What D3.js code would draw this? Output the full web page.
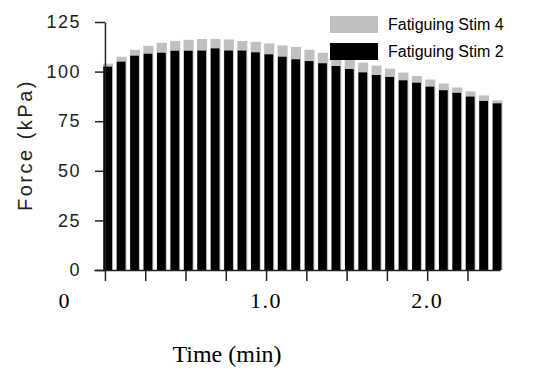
<!DOCTYPE html>
<html>
<head>
<meta charset="utf-8">
<script src="https://cdn.jsdelivr.net/npm/d3@7"></script>
<style>
  body { margin: 0; background: #fff; }
  svg { display: block; }
</style>
</head>
<body>
<script>
// data
var legendLabels = ["Fatiguing Stim 4", "Fatiguing Stim 2"];
var legendColors = ["#c0c0c0", "#000000"];

// one bar every 5 s
var stim4 = [104, 107.5, 111, 113, 114.5, 115.5, 116, 116.4, 116.4, 116.2,
             115.4, 115, 114.2, 113.2, 112.4, 111, 109.5, 108, 106.5, 104.5,
             103, 101.5, 99.5, 97.8, 96, 94, 92, 90, 88, 85.5];
var stim2 = [102.5, 105, 108, 109, 109.5, 110.5, 110.5, 110.6, 111.7, 110.6,
             110.6, 109.7, 108.7, 107.5, 106.2, 105.3, 104.2, 102.8, 101.3, 99.6,
             98.3, 97.3, 95.6, 94.4, 92.4, 90.6, 89.3, 87.4, 85.2, 84];

var yTicks = [0, 25, 50, 75, 100, 125];
var xTicks = [0, 0.25, 0.5, 0.75, 1.0, 1.25, 1.5, 1.75, 2.0, 2.25];
var xLabelPos = [-0.25, 1.0, 2.0];
var xLabelText = ["0", "1.0", "2.0"];

var barSeconds = 5;

var svg = d3.select("body")
    .append("svg")
    .attr("width", 548)
    .attr("height", 384);

var x = d3.scaleLinear().domain([-0.068, 2.452]).range([94, 500]);
var y = d3.scaleLinear().domain([0, 125]).range([270, 22]);

var step = x(barSeconds / 60) - x(0);
var start = x(-0.012);
var band = d3.scaleBand()
    .domain(d3.range(stim2.length))
    .range([start, start + (stim2.length - 0.25) * step])
    .paddingInner(0.25)
    .paddingOuter(0);

// back series (grey)
svg.append("g").selectAll("rect")
    .data(stim4)
    .enter()
    .append("rect")
    .attr("fill", legendColors[0])
    .attr("x", function (d, i) { return band(i); })
    .attr("width", band.bandwidth())
    .attr("y", function (d) { return y(d); })
    .attr("height", function (d) { return y(0) - y(d); });

// front series (black)
svg.append("g").selectAll("rect")
    .data(stim2)
    .enter()
    .append("rect")
    .attr("fill", legendColors[1])
    .attr("x", function (d, i) { return band(i) + 0.3; })
    .attr("width", band.bandwidth() - 1.3)
    .attr("y", function (d) { return y(d); })
    .attr("height", function (d) { return y(0) - y(d); });

// axes
var yAxis = svg.append("g")
    .attr("transform", "translate(" + x(0) + ",0)")
    .call(d3.axisLeft(y).tickValues(yTicks).tickSize(10).tickPadding(14).tickSizeOuter(0));
yAxis.selectAll("text")
    .attr("font-family", "Liberation Sans, Arial, sans-serif")
    .attr("font-size", 18)
    .attr("letter-spacing", 1.5)
    .attr("fill", "#222");

var xAxis = svg.append("g")
    .attr("transform", "translate(0," + y(0) + ")")
    .call(d3.axisBottom(x).tickValues(xTicks).tickFormat("").tickSize(11).tickSizeOuter(0));

svg.selectAll(".domain, .tick line")
    .attr("stroke", "#222")
    .attr("stroke-width", 1.5);

// x tick labels (serif, as in the figure)
svg.append("g").selectAll("text")
    .data(xLabelPos)
    .enter()
    .append("text")
    .attr("x", function (d) { return x(d); })
    .attr("y", 308)
    .attr("text-anchor", "middle")
    .attr("font-family", "Liberation Serif, Times New Roman, serif")
    .attr("font-size", 22)
    .attr("letter-spacing", 1.5)
    .text(function (d, i) { return xLabelText[i]; });

svg.append("text")
    .attr("x", 227)
    .attr("y", 362)
    .attr("text-anchor", "middle")
    .attr("font-family", "Liberation Serif, Times New Roman, serif")
    .attr("font-size", 24)
    .text("Time (min)");

svg.append("text")
    .attr("transform", "translate(32,145) rotate(-90)")
    .attr("text-anchor", "middle")
    .attr("font-family", "Liberation Sans, Arial, sans-serif")
    .attr("font-size", 20)
    .attr("letter-spacing", 2.5)
    .attr("fill", "#222")
    .text("Force (kPa)");

// legend
var legend = svg.append("g").selectAll("g")
    .data(legendLabels)
    .enter()
    .append("g")
    .attr("transform", function (d, i) { return "translate(330," + (16 + i * 27) + ")"; });

legend.append("rect")
    .attr("width", 48)
    .attr("height", 17)
    .attr("fill", function (d, i) { return legendColors[i]; });

legend.append("text")
    .attr("x", 58)
    .attr("y", 14)
    .attr("font-family", "Liberation Sans, Arial, sans-serif")
    .attr("font-size", 16)
    .text(function (d) { return d; });
</script>
</body>
</html>
